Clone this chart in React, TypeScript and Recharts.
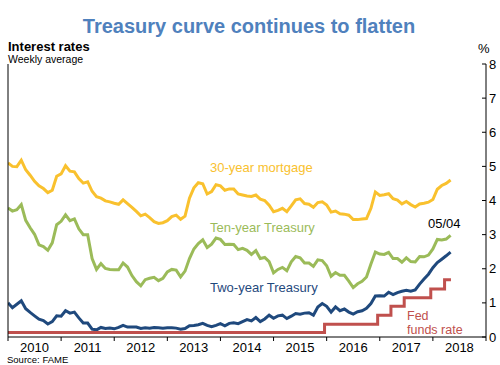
import { LineChart, Line, XAxis, YAxis } from 'recharts'

// monthly averages, Jan 2010 .. May 2018 (%)
const mortgage30 = [
  5.10, 5.00, 4.99, 5.18, 4.90, 4.74, 4.56, 4.43, 4.35, 4.23, 4.30, 4.71,
  4.78, 5.02, 4.86, 4.84, 4.64, 4.51, 4.55, 4.27, 4.11, 4.07, 3.99, 3.96,
  3.92, 3.89, 4.02, 3.91, 3.80, 3.68, 3.55, 3.60, 3.50, 3.38, 3.33, 3.35,
  3.41, 3.53, 3.57, 3.45, 3.54, 4.07, 4.37, 4.52, 4.49, 4.19, 4.26, 4.46,
  4.43, 4.30, 4.34, 4.34, 4.19, 4.16, 4.13, 4.12, 4.16, 4.04, 4.00, 3.86,
  3.67, 3.71, 3.77, 3.67, 3.84, 4.02, 4.05, 3.91, 3.89, 3.80, 3.94, 3.96,
  3.87, 3.66, 3.69, 3.61, 3.60, 3.57, 3.44, 3.44, 3.46, 3.47, 3.77, 4.25,
  4.15, 4.17, 4.20, 4.05, 4.01, 3.90, 3.97, 3.88, 3.81, 3.90, 3.92, 3.95,
  4.03, 4.33, 4.44, 4.50, 4.60,
]

const tenYear = [
  3.78, 3.69, 3.73, 3.88, 3.42, 3.20, 3.01, 2.70, 2.65, 2.54, 2.76, 3.29,
  3.39, 3.58, 3.41, 3.46, 3.17, 3.00, 3.00, 2.30, 1.98, 2.15, 2.01, 1.98,
  1.97, 1.97, 2.17, 2.05, 1.80, 1.62, 1.50, 1.68, 1.72, 1.75, 1.65, 1.72,
  1.91, 1.98, 1.96, 1.76, 1.93, 2.30, 2.58, 2.74, 2.85, 2.62, 2.72, 2.90,
  2.86, 2.71, 2.72, 2.71, 2.56, 2.60, 2.54, 2.42, 2.53, 2.30, 2.33, 2.21,
  1.88, 1.98, 2.04, 1.94, 2.20, 2.36, 2.32, 2.17, 2.17, 2.07, 2.26, 2.24,
  2.09, 1.78, 1.89, 1.81, 1.81, 1.64, 1.45, 1.56, 1.63, 1.76, 2.14, 2.49,
  2.43, 2.42, 2.48, 2.30, 2.30, 2.19, 2.32, 2.21, 2.20, 2.36, 2.35, 2.40,
  2.58, 2.86, 2.84, 2.87, 2.98,
]

const twoYear = [
  1.00, 0.86, 0.96, 1.06, 0.83, 0.72, 0.62, 0.52, 0.48, 0.38, 0.45, 0.62,
  0.61, 0.77, 0.70, 0.73, 0.56, 0.41, 0.41, 0.23, 0.21, 0.28, 0.25, 0.26,
  0.24, 0.28, 0.34, 0.29, 0.29, 0.29, 0.25, 0.27, 0.26, 0.28, 0.27, 0.26,
  0.27, 0.27, 0.26, 0.23, 0.25, 0.33, 0.34, 0.36, 0.40, 0.34, 0.30, 0.34,
  0.39, 0.33, 0.40, 0.42, 0.39, 0.45, 0.51, 0.47, 0.57, 0.45, 0.53, 0.64,
  0.55, 0.62, 0.64, 0.54, 0.61, 0.69, 0.67, 0.70, 0.71, 0.64, 0.88, 0.98,
  0.90, 0.73, 0.88, 0.77, 0.82, 0.73, 0.67, 0.74, 0.77, 0.84, 0.98, 1.20,
  1.21, 1.20, 1.31, 1.24, 1.30, 1.34, 1.37, 1.34, 1.38, 1.55, 1.70, 1.84,
  2.03, 2.18, 2.28, 2.38, 2.49,
]

// fed funds rate changes (decimal year, %)
const fedDates = [2010, 2015.96, 2016.96, 2017.21, 2017.46, 2017.96, 2018.22, 2018.34]
const fedRate = [0.13, 0.37, 0.64, 0.90, 1.15, 1.41, 1.68, 1.68]

const years = [2010, 2011, 2012, 2013, 2014, 2015, 2016, 2017, 2018, 2019]
const yTicks = [0, 1, 2, 3, 4, 5, 6, 7, 8]

const rows = mortgage30.map((v, i) => ({
  t: 2010 + i / 12,
  mortgage: v,
  ten: tenYear[i],
  two: twoYear[i],
}))
const fedRows = fedDates.map((t, i) => ({ t, fed: fedRate[i] }))

const FONT = "'Liberation Sans', Arial, sans-serif"
const YELLOW = '#F9C12E'
const GREEN = '#9BBB59'
const BLUE = '#1F497D'
const RED = '#C0504D'

function YearTick(props: any) {
  const { x, y, payload } = props
  if (payload.value >= 2019) return <g />
  return (
    <text x={x + 26.5} y={y} dy="0.71em" textAnchor="middle" fontSize={13} fontFamily={FONT} fill="#000">
      {payload.value}
    </text>
  )
}

export default function App() {
  return (
    <div style={{ position: 'absolute', left: 0, top: 0, width: 500, height: 365, background: '#fff', fontFamily: FONT }}>
      <LineChart width={500} height={365} data={rows} margin={{ top: 64, right: 0, bottom: 8, left: 7 }}>
        <XAxis
          dataKey="t" type="number" domain={[2010, 2019]} ticks={years} allowDataOverflow
          height={20} tickSize={4} stroke="#000" tick={<YearTick />} interval={0}
        />
        <YAxis
          yAxisId="left" orientation="left" width={1} domain={[0, 8]} ticks={yTicks}
          tick={false} tickSize={-4} stroke="#000" interval={0}
        />
        <YAxis
          yAxisId="right" orientation="right" width={14} domain={[0, 8]} ticks={yTicks}
          tickSize={-4} tickMargin={7} stroke="#000" interval={0}
          tick={{ fontSize: 13, fontFamily: FONT, fill: '#000' }}
        />
        <Line yAxisId="right" dataKey="mortgage" stroke={YELLOW} strokeWidth={3} dot={false} isAnimationActive={false} />
        <Line yAxisId="right" dataKey="ten" stroke={GREEN} strokeWidth={3} dot={false} isAnimationActive={false} />
        <Line yAxisId="right" dataKey="two" stroke={BLUE} strokeWidth={3} dot={false} isAnimationActive={false} />
        <Line yAxisId="right" data={fedRows} dataKey="fed" type="stepAfter" stroke={RED} strokeWidth={3} dot={false} isAnimationActive={false} />
      </LineChart>
      <svg width={500} height={365} style={{ position: 'absolute', left: 0, top: 0, pointerEvents: 'none' }} fontFamily={FONT}>
        <text x={249} y={33} textAnchor="middle" fontSize={20} fontWeight="bold" fill="#4F81BD">
          Treasury curve continues to flatten
        </text>
        <text x={8} y={51} fontSize={13} fontWeight="bold" fill="#000">Interest rates</text>
        <text x={8} y={63} fontSize={10.5} fill="#000">Weekly average</text>
        <text x={478} y={53} fontSize={13} fill="#000">%</text>
        <text x={210} y={172} fontSize={13} fill={YELLOW}>30-year mortgage</text>
        <text x={210} y={232} fontSize={13} fill={GREEN}>Ten-year Treasury</text>
        <text x={210} y={292} fontSize={13} fill={BLUE}>Two-year Treasury</text>
        <text x={428} y={228} fontSize={13} fill="#000">05/04</text>
        <text x={407} y={320} fontSize={12.5} fill={RED}>Fed</text>
        <text x={407} y={334} fontSize={12.5} fill={RED}>funds rate</text>
        <text x={7} y={363} fontSize={9.5} fill="#000">Source: FAME</text>
      </svg>
    </div>
  )
}
